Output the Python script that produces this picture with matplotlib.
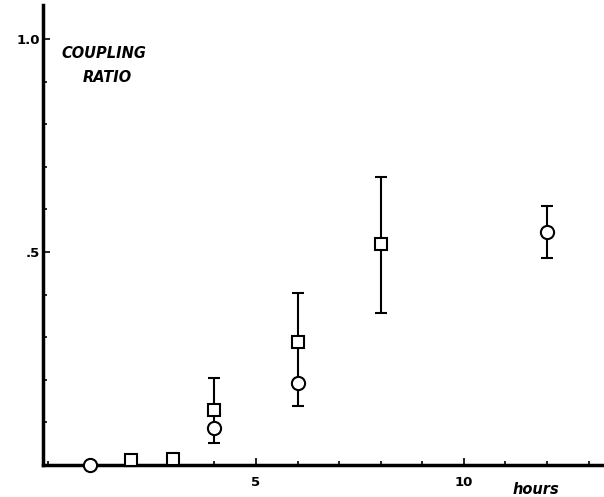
import numpy as np
import matplotlib.pyplot as plt
from matplotlib.ticker import MultipleLocator, FixedLocator

# squares
sq_x = [2, 3, 4, 6, 8]
sq_y = [0.012, 0.014, 0.13, 0.289, 0.52]
sq_lo = [0, 0, 0.042, 0.096, 0.163]   # lower bars reach down to the circles
sq_hi = [0, 0, 0.075, 0.114, 0.155]

# circles
ci_x = [1, 4, 6, 12]
ci_y = [0.0, 0.088, 0.193, 0.548]
ci_lo = [0, 0.036, 0.054, 0.063]
ci_hi = [0, 0, 0, 0.06]

fig = plt.figure(figsize=(6.04, 4.97), dpi=100)
ax = fig.add_axes([0.0712, 0.0644, 0.9288, 0.9256])

ax.errorbar(sq_x, sq_y, yerr=[sq_lo, sq_hi], fmt='none', ecolor='black',
            elinewidth=1.5, capsize=4, capthick=1.5, clip_on=False, zorder=2)
ax.errorbar(ci_x, ci_y, yerr=[ci_lo, ci_hi], fmt='none', ecolor='black',
            elinewidth=1.5, capsize=4, capthick=1.5, clip_on=False, zorder=2)
ax.plot(sq_x, sq_y, 's', ms=9, mfc='white', mec='black', mew=1.5,
        clip_on=False, zorder=3)
ax.plot(ci_x, ci_y, 'o', ms=9.5, mfc='white', mec='black', mew=1.5,
        clip_on=False, zorder=4)

ax.set_xlim(-0.12, 13.37)
ax.set_ylim(0, 1.08)

for s in ['top', 'right']:
    ax.spines[s].set_visible(False)
for s in ['left', 'bottom']:
    ax.spines[s].set_linewidth(2.5)

ax.xaxis.set_major_locator(FixedLocator([5, 10]))
ax.xaxis.set_minor_locator(MultipleLocator(1))
ax.yaxis.set_major_locator(FixedLocator([0.5, 1.0]))
ax.yaxis.set_minor_locator(MultipleLocator(0.1))
ax.set_xticklabels(['5', '10'])
ax.set_yticklabels(['.5', '1.0'])
ax.tick_params(which='both', direction='in', width=1.2)
ax.tick_params(which='major', length=5)
ax.tick_params(which='minor', length=3)
ax.tick_params(axis='x', pad=8)
ax.tick_params(axis='y', pad=2)
for lab in ax.get_xticklabels() + ax.get_yticklabels():
    lab.set_fontweight('bold')
    lab.set_fontsize(9.5)

fig.text(104 / 604, 1 - 53 / 497, 'COUPLING', fontsize=10.5, fontweight='bold',
         fontstyle='italic', ha='center', va='center')
fig.text(107 / 604, 1 - 78 / 497, 'RATIO', fontsize=10.5, fontweight='bold',
         fontstyle='italic', ha='center', va='center')
fig.text(536 / 604, 1 - 490 / 497, 'hours', fontsize=10.5, fontweight='bold',
         fontstyle='italic', ha='center', va='center')

fig.savefig('out.png', dpi=100)
